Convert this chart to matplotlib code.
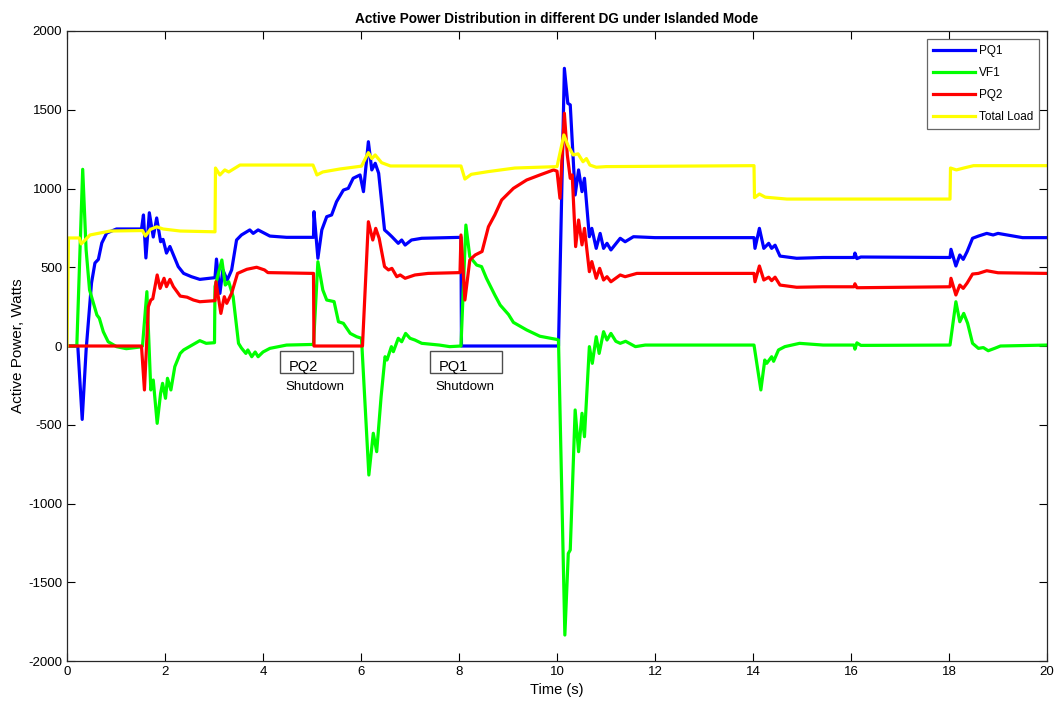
import matplotlib
matplotlib.use('Agg')
import matplotlib.pyplot as plt
from matplotlib.patches import Rectangle

plt.rcParams['font.family'] = ['Liberation Sans Narrow', 'Liberation Sans', 'DejaVu Sans']
plt.rcParams['axes.unicode_minus'] = False

#-------------------------------------------------------------------------------
# values (time in s, power in W)
#-------------------------------------------------------------------------------
t_pq1 = [0, 0.22, 0.31, 0.39, 0.50, 0.57, 0.64, 0.71, 0.81, 1.01, 1.52, 1.56, 1.61, 1.68,
         1.76, 1.83, 1.91, 1.96, 2.03, 2.10, 2.27, 2.38, 2.54, 2.71, 3.02, 3.05, 3.12, 3.18,
         3.27, 3.36, 3.46, 3.56, 3.73, 3.80, 3.90, 4.14, 4.48, 5.03, 5.04, 5.12, 5.20, 5.30,
         5.40, 5.50, 5.64, 5.74, 5.84, 5.98, 6.05, 6.15, 6.22, 6.29, 6.36, 6.48, 6.56, 6.63,
         6.76, 6.83, 6.90, 7.03, 7.24, 8.04, 8.05, 10.03, 10.15, 10.22, 10.27, 10.37, 10.44,
         10.51, 10.56, 10.66, 10.71, 10.80, 10.88, 10.95, 11.02, 11.10, 11.29, 11.39, 11.56,
         12.0, 14.02, 14.04, 14.13, 14.22, 14.32, 14.38, 14.45, 14.55, 14.89, 15.43, 16.06,
         16.08, 16.12, 16.20, 18.02, 18.04, 18.14, 18.22, 18.29, 18.37, 18.48, 18.60, 18.77,
         18.90, 19.00, 19.5, 20]
p_pq1 = [0, 0, -466, -25, 400, 527, 550, 654, 717, 743, 743, 832, 559, 846,
         692, 813, 662, 677, 590, 632, 504, 461, 440, 423, 434, 552, 334, 483,
         419, 483, 673, 705, 737, 715, 737, 698, 690, 690, 853, 557, 737, 821,
         832, 916, 990, 1001, 1065, 1086, 980, 1297, 1118, 1160, 1097, 737, 715, 694,
         652, 673, 641, 673, 684, 690, 0, 0, 1763, 1541, 1531, 959, 1118,
         980, 1065, 694, 747, 620, 715, 620, 652, 610, 684, 662, 694,
         688, 688, 620, 747, 620, 652, 620, 640, 571, 557, 562, 562,
         590, 555, 565, 562, 614, 508, 578, 550, 600, 684, 698, 715,
         705, 715, 688, 688]

t_vf1 = [0, 0.20, 0.32, 0.39, 0.46, 0.50, 0.61, 0.66, 0.74, 0.84, 1.01, 1.21, 1.50, 1.54,
         1.63, 1.71, 1.76, 1.84, 1.91, 1.95, 2.01, 2.05, 2.12, 2.20, 2.31, 2.38, 2.52, 2.71,
         2.84, 3.01, 3.02, 3.16, 3.23, 3.30, 3.39, 3.50, 3.56, 3.65, 3.69, 3.77, 3.84, 3.90,
         4.00, 4.14, 4.48, 5.03, 5.12, 5.22, 5.30, 5.45, 5.54, 5.64, 5.78, 5.91, 6.01, 6.16,
         6.25, 6.32, 6.41, 6.49, 6.53, 6.62, 6.66, 6.76, 6.83, 6.91, 7.00, 7.10, 7.24, 7.60,
         7.81, 8.04, 8.14, 8.22, 8.36, 8.46, 8.56, 8.73, 8.84, 9.01, 9.11, 9.38, 9.65, 9.99,
         10.03, 10.16, 10.23, 10.27, 10.37, 10.44, 10.51, 10.56, 10.66, 10.72, 10.80, 10.86,
         10.95, 11.02, 11.10, 11.20, 11.29, 11.40, 11.60, 11.80, 14.02, 14.16, 14.24, 14.28,
         14.38, 14.42, 14.52, 14.65, 14.95, 15.43, 16.06, 16.08, 16.12, 16.20, 18.02, 18.14,
         18.22, 18.30, 18.38, 18.48, 18.60, 18.70, 18.80, 18.93, 19.05, 20]
p_vf1 = [0, 0, 1122, 610, 356, 313, 197, 176, 91, 27, -4, -17, -6, 0,
         345, -279, -216, -491, -300, -237, -332, -205, -279, -131, -47, -25, 0, 34,
         17, 21, 377, 546, 387, 408, 313, 17, -13, -47, -25, -68, -38, -68,
         -38, -15, 6, 10, 535, 356, 292, 282, 154, 144, 80, 59, 49, -819,
         -554, -671, -322, -68, -89, -4, -36, 49, 27, 80, 49, 38, 17, 6,
         -4, 0, 768, 567, 514, 504, 430, 324, 260, 200, 150, 102, 62, 42,
         38, -1835, -1317, -1295, -406, -671, -427, -576, -4, -110, 59, -47,
         91, 38, 80, 30, 17, 30, -4, 6, 6, -279, -89, -110,
         -68, -97, -25, -4, 17, 6, 6, -20, 20, 4, 6, 281,
         154, 207, 144, 17, -15, -10, -30, -15, 0, 6]

t_pq2 = [0, 1.52, 1.58, 1.66, 1.71, 1.75, 1.84, 1.90, 1.98, 2.03, 2.10, 2.17, 2.31, 2.45,
         2.58, 2.71, 3.02, 3.04, 3.14, 3.21, 3.26, 3.36, 3.48, 3.56, 3.67, 3.87, 4.03, 4.10,
         5.03, 5.04, 6.03, 6.15, 6.24, 6.30, 6.37, 6.48, 6.56, 6.63, 6.73, 6.80, 6.90, 7.10,
         7.37, 8.02, 8.04, 8.12, 8.22, 8.33, 8.47, 8.60, 8.73, 8.87, 9.11, 9.38, 9.65, 9.93,
         10.00, 10.06, 10.15, 10.21, 10.27, 10.31, 10.38, 10.44, 10.51, 10.56, 10.66, 10.71,
         10.80, 10.87, 10.95, 11.02, 11.10, 11.29, 11.39, 11.63, 14.02, 14.04, 14.13, 14.22,
         14.32, 14.38, 14.45, 14.55, 14.89, 15.43, 16.06, 16.08, 16.12, 18.02, 18.04, 18.14,
         18.22, 18.29, 18.37, 18.48, 18.60, 18.77, 19.0, 20]
p_pq2 = [0, 0, -279, 250, 292, 300, 451, 366, 430, 377, 423, 377, 317, 310,
         292, 281, 288, 408, 207, 313, 271, 335, 461, 472, 487, 500, 483, 466,
         461, 0, 0, 789, 673, 747, 684, 504, 483, 493, 440, 451, 430, 451,
         461, 466, 705, 292, 546, 578, 600, 757, 832, 927, 1001, 1054, 1086, 1118,
         1110, 938, 1478, 1213, 1065, 1086, 631, 800, 642, 747, 472, 536,
         430, 493, 419, 440, 408, 451, 440, 461, 461, 408, 508, 419,
         437, 415, 437, 387, 373, 376, 376, 395, 370, 376, 430, 324,
         387, 366, 400, 457, 461, 478, 465, 461]

t_load = [0, 0.03, 0.25, 0.29, 0.47, 0.88, 1.54, 1.60, 1.70, 1.83, 1.96, 2.31, 3.02, 3.03,
          3.12, 3.22, 3.30, 3.53, 5.02, 5.10, 5.22, 5.57, 6.01, 6.15, 6.22, 6.29, 6.42, 6.60,
          8.04, 8.12, 8.25, 8.59, 9.14, 10.0, 10.14, 10.22, 10.33, 10.43, 10.53, 10.60, 10.67,
          10.80, 11.0, 14.02, 14.03, 14.13, 14.25, 14.69, 18.02, 18.03, 18.15, 18.3, 18.5, 20]
p_load = [0, 686, 686, 648, 705, 730, 733, 698, 740, 757, 743, 730, 725, 1130,
          1086, 1118, 1105, 1149, 1149, 1086, 1105, 1124, 1142, 1228, 1190, 1213, 1164, 1143,
          1143, 1060, 1090, 1107, 1130, 1139, 1340, 1276, 1213, 1220, 1170, 1190, 1149,
          1135, 1139, 1145, 942, 965, 945, 933, 933, 1130, 1118, 1130, 1145, 1145]

series = [('PQ1', t_pq1, p_pq1, '#0000ff'),
          ('VF1', t_vf1, p_vf1, '#00ff00'),
          ('PQ2', t_pq2, p_pq2, '#ff0000'),
          ('Total Load', t_load, p_load, '#ffff00')]

# shutdown notes: (label, box x0, box x1)
notes = [('PQ2', 4.35, 5.83), ('PQ1', 7.41, 8.88)]

#-------------------------------------------------------------------------------
fig = plt.figure(figsize=(10.62, 7.11), dpi=100)
ax = fig.add_axes([0.0631, 0.0703, 0.9228, 0.8861])

for name, t, p, col in series:
    ax.plot(t, p, color=col, lw=2.3, label=name, solid_joinstyle='round')

for lab, x0, x1 in notes:
    ax.add_patch(Rectangle((x0, -170), x1 - x0, 140, fill=False, edgecolor='0.3', lw=1))
    ax.text(x0 + 0.17, -175, lab, fontsize=10.5, va='bottom', ha='left')
    ax.text(x0 + 0.1, -260, 'Shutdown', fontsize=9.5, va='center', ha='left')

ax.set_xlim(0, 20)
ax.set_ylim(-2000, 2000)
ax.set_xticks(range(0, 21, 2))
ax.set_yticks(range(-2000, 2001, 500))
ax.tick_params(direction='in', top=True, right=True, length=6, labelsize=9.5)
for s in ax.spines.values():
    s.set_linewidth(0.9)
    s.set_color('0.15')

ax.set_title('Active Power Distribution in different DG under Islanded Mode',
             fontsize=9.8, fontweight='bold', pad=6)
ax.set_xlabel('Time (s)', fontsize=10.5, labelpad=4)
ax.set_ylabel('Active Power, Watts', fontsize=11, family='Liberation Sans', labelpad=2)

leg = ax.legend(loc='upper right', fontsize=8.5, fancybox=False, framealpha=1,
                edgecolor='0.4', handlelength=3.6, borderaxespad=0.7,
                labelspacing=0.85, handletextpad=0.3, borderpad=0.5)
leg.get_frame().set_linewidth(0.9)

plt.savefig('out.png', dpi=100)
